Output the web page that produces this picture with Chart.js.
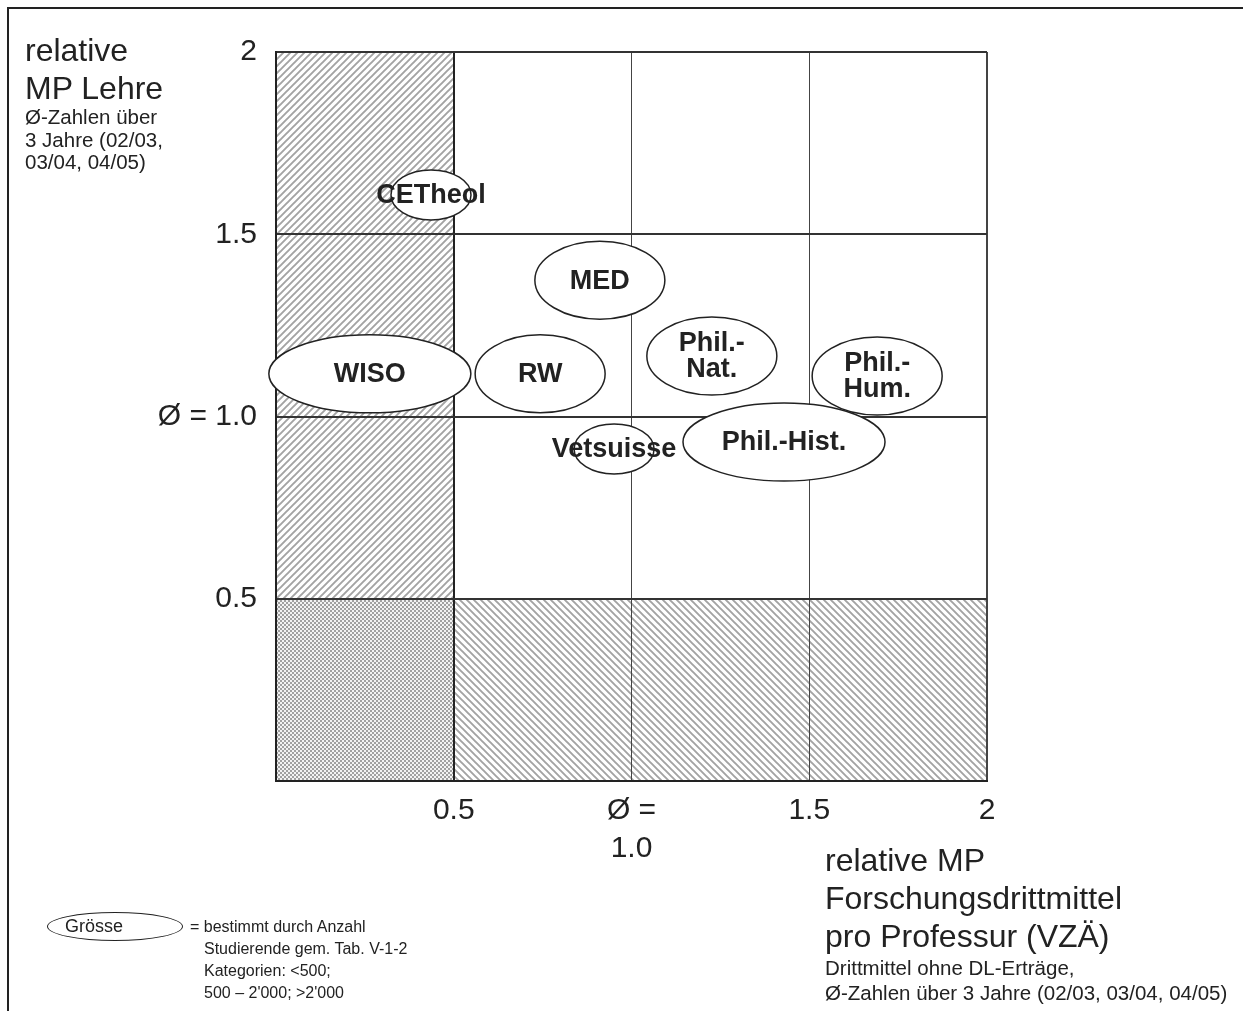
<!DOCTYPE html>
<html>
<head>
<meta charset="utf-8">
<script src="https://cdn.jsdelivr.net/npm/chart.js@4/dist/chart.umd.min.js"></script>
<style>
body { margin: 0; background: #fff; font-family: 'Liberation Sans', Arial, sans-serif; color: #222; }
#wrap { position: relative; width: 1243px; height: 1011px; }
.note { position: absolute; white-space: nowrap; }
.big { font-size: 32px; line-height: 38px; }
.small { font-size: 20.5px; line-height: 22.5px; }
.legend-oval { position: absolute; left: 47px; top: 912px; width: 134px; height: 27px; border: 1.5px solid #222; border-radius: 50%; }
.legend-oval span { position: absolute; left: 17px; top: 3px; font-size: 18px; }
.legend-text { font-size: 16px; line-height: 22px; }
.legend-text .ind { padding-left: 14px; }
</style>
</head>
<body>
<div id="wrap">
  <canvas id="myChart"></canvas>
  <div class="note big" style="left:25px; top:31px;">relative<br>MP Lehre</div>
  <div class="note small" style="left:25px; top:106px;">Ø-Zahlen über<br>3 Jahre (02/03,<br>03/04, 04/05)</div>
  <div class="note big" style="left:825px; top:841px;">relative MP<br>Forschungsdrittmittel<br>pro Professur (VZÄ)</div>
  <div class="note small" style="left:825px; top:956px; line-height:24.5px;">Drittmittel ohne DL-Erträge,<br>Ø-Zahlen über 3 Jahre (02/03, 03/04, 04/05)</div>
  <div class="legend-oval"><span>Grösse</span></div>
  <div class="note legend-text" style="left:190px; top:916px;">= bestimmt durch Anzahl<br><span class="ind">Studierende gem. Tab. V-1-2</span><br><span class="ind">Kategorien: &lt;500;</span><br><span class="ind">500 – 2'000; &gt;2'000</span></div>
</div>
<script>
// data
const faculties = ["WISO", "RW", "MED", "Phil.-\nNat.", "Phil.-\nHum.", "Phil.-Hist.", "Vetsuisse", "CETheol"];
const mpResearch = [0.264, 0.743, 0.911, 1.226, 1.691, 1.429, 0.951, 0.436];
const mpTeaching = [1.117, 1.117, 1.374, 1.166, 1.111, 0.930, 0.911, 1.608];
// student count class: 1 = <500, 2 = 500 - 2'000, 3 = >2'000
const sizeClass = [3, 2, 2, 2, 2, 3, 1, 1];

const xTickValues = [0.5, 1, 1.5, 2];
const xTickLabels = ["0.5", ["Ø =", "1.0"], "1.5", "2"];
const yTickValues = [0.5, 1, 1.5, 2];
const yTickLabels = ["0.5", "Ø = 1.0", "1.5", "2"];
const lowLimit = 0.5;

const FONT = "'Liberation Sans', Arial, sans-serif";
const INK = "#222";

// oval sizes per class (px)
const ovalSize = { 1: [40, 25], 2: [65, 39], 3: [101, 39] };

function tickText(values, labels) {
    return function (v) {
        var i = values.indexOf(v);
        return i < 0 ? "" : labels[i];
    };
}

function stripes(ctx, dir) {
    const s = 7;
    const c = document.createElement("canvas");
    c.width = s;
    c.height = s;
    const g = c.getContext("2d");
    g.fillStyle = "#fff";
    g.fillRect(0, 0, s, s);
    g.strokeStyle = "#a3a3a3";
    g.lineWidth = 1.9;
    g.beginPath();
    if (dir > 0) {
        g.moveTo(-1, s + 1); g.lineTo(s + 1, -1);
        g.moveTo(-1, 1); g.lineTo(1, -1);
        g.moveTo(s - 1, s + 1); g.lineTo(s + 1, s - 1);
    } else {
        g.moveTo(-1, -1); g.lineTo(s + 1, s + 1);
        g.moveTo(s - 1, -1); g.lineTo(s + 1, 1);
        g.moveTo(-1, s - 1); g.lineTo(1, s + 1);
    }
    g.stroke();
    return ctx.createPattern(c, "repeat");
}

function checker(ctx) {
    const c = document.createElement("canvas");
    c.width = 4;
    c.height = 4;
    const g = c.getContext("2d");
    g.fillStyle = "#f2f2f2";
    g.fillRect(0, 0, 4, 4);
    g.fillStyle = "#a0a0a0";
    g.fillRect(0, 0, 2, 2);
    g.fillRect(2, 2, 2, 2);
    return ctx.createPattern(c, "repeat");
}

// background, frame and hatched zones
const backdrop = {
    id: "backdrop",
    beforeDraw(chart) {
        const ctx = chart.ctx;
        const x = chart.scales.x, y = chart.scales.y;
        const a = chart.chartArea;
        const xl = x.getPixelForValue(lowLimit);
        const yl = y.getPixelForValue(lowLimit);
        ctx.save();
        ctx.fillStyle = "#fff";
        ctx.fillRect(0, 0, chart.width, chart.height);
        ctx.fillStyle = stripes(ctx, 1);
        ctx.fillRect(a.left, a.top, xl - a.left, yl - a.top);
        ctx.fillStyle = stripes(ctx, -1);
        ctx.fillRect(xl, yl, a.right - xl, a.bottom - yl);
        ctx.fillStyle = checker(ctx);
        ctx.fillRect(a.left, yl, xl - a.left, a.bottom - yl);
        ctx.strokeStyle = INK;
        ctx.lineWidth = 2;
        ctx.strokeRect(8, 8, chart.width + 100, chart.height + 100);
        ctx.restore();
    }
};

// ovals with faculty names
const ovals = {
    id: "ovals",
    afterDatasetsDraw(chart) {
        const ctx = chart.ctx;
        const meta = chart.getDatasetMeta(0);
        ctx.save();
        meta.data.forEach(function (pt, i) {
            const sz = ovalSize[sizeClass[i]];
            ctx.beginPath();
            ctx.ellipse(pt.x, pt.y, sz[0], sz[1], 0, 0, Math.PI * 2);
            ctx.fillStyle = "#fff";
            ctx.fill();
            ctx.lineWidth = 1.5;
            ctx.strokeStyle = INK;
            ctx.stroke();
        });
        ctx.fillStyle = INK;
        ctx.font = "bold 27px " + FONT;
        ctx.textAlign = "center";
        ctx.textBaseline = "middle";
        meta.data.forEach(function (pt, i) {
            const lines = faculties[i].split("\n");
            const lh = 26;
            const y0 = pt.y - (lines.length - 1) * lh / 2;
            lines.forEach(function (t, k) {
                ctx.fillText(t, pt.x, y0 + k * lh + 1);
            });
        });
        ctx.restore();
    }
};

const data = {
    datasets: [
        {
            label: "Fakultäten",
            data: mpResearch.map(function (v, i) { return { x: v, y: mpTeaching[i] }; }),
            pointRadius: 0,
            pointHoverRadius: 0,
            showLine: false
        }
    ]
};

const config = {
    type: "scatter",
    data,
    plugins: [backdrop, ovals],
    options: {
        responsive: true,
        maintainAspectRatio: false,
        animation: false,
        events: [],
        layout: { padding: { left: 0, top: 52, right: 256, bottom: 0 } },
        plugins: {
            legend: { display: false },
            tooltip: { enabled: false }
        },
        scales: {
            x: {
                type: "linear",
                min: 0,
                max: 2,
                afterFit: function (scale) { scale.height = 230; },
                border: { display: true, color: INK, width: 2 },
                grid: {
                    drawTicks: false,
                    color: function (c) { return c.tick && c.tick.value === lowLimit ? INK : "#444"; },
                    lineWidth: function (c) {
                        if (!c.tick) return 1;
                        return c.tick.value === lowLimit || c.tick.value === 2 ? 2 : 1;
                    }
                },
                ticks: {
                    stepSize: 0.5,
                    padding: 11,
                    maxRotation: 0,
                    color: INK,
                    font: { family: FONT, size: 30, lineHeight: 1.27 },
                    callback: tickText(xTickValues, xTickLabels)
                }
            },
            y: {
                type: "linear",
                min: 0,
                max: 2,
                afterFit: function (scale) { scale.width = 276; },
                border: { display: true, color: INK, width: 2 },
                grid: {
                    drawTicks: false,
                    color: "#333",
                    lineWidth: 2
                },
                ticks: {
                    stepSize: 0.5,
                    padding: 19,
                    color: INK,
                    font: { family: FONT, size: 30 },
                    callback: tickText(yTickValues, yTickLabels)
                }
            }
        }
    }
};

const myChart = new Chart(document.getElementById("myChart"), config);
</script>
</body>
</html>
